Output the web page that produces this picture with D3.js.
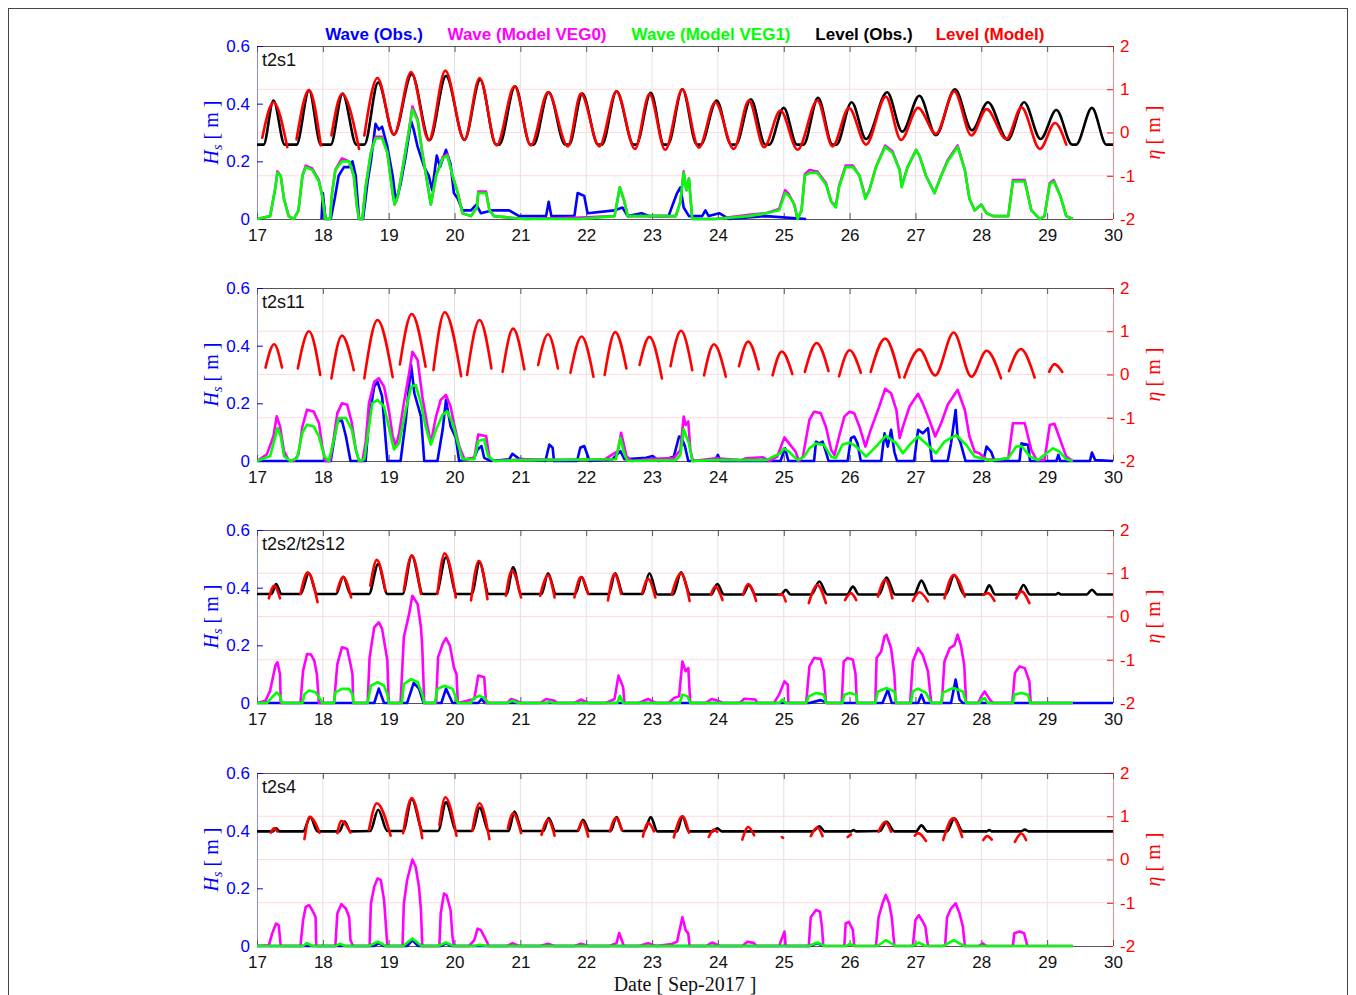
<!DOCTYPE html>
<html>
<head>
<meta charset="utf-8">
<script src="https://cdn.jsdelivr.net/npm/d3@7"></script>
<style>
  body { margin: 0; background: #fff; }
  svg { display: block; }
</style>
</head>
<body>
<div id="chart"></div>
<script>
// Wave height (Hs) and water level (eta) at four stations, Sep 2017.
// Series are [day, value] vertices.

const dayTicks = [17, 18, 19, 20, 21, 22, 23, 24, 25, 26, 27, 28, 29, 30];
const hsTicks = [0, 0.2, 0.4, 0.6];
const hsTickLabels = ["0", "0.2", "0.4", "0.6"];
const etaTicks = [-2, -1, 0, 1, 2];
const etaTickLabels = ["-2", "-1", "0", "1", "2"];
const stationNames = ["t2s1", "t2s11", "t2s2/t2s12", "t2s4"];
const legendLabels = ["Wave (Obs.)", "Wave (Model VEG0)", "Wave (Model VEG1)", "Level (Obs.)", "Level (Model)"];

////////////////////////////////////////////////////////////////////////
// t2s1

const waveObs1 = [[17.98,0],[18.00,0.09],[18.04,0],[18.12,0],[18.18,0.07],[18.24,0.15],[18.32,0.18],[18.40,0.18],[18.45,0.20],[18.50,0.15],[18.55,0],[18.61,0],[18.68,0.13],[18.73,0.20],[18.80,0.33],[18.85,0.31],[18.90,0.32],[18.98,0.25],[19.06,0.15],[19.11,0.06],[19.18,0.12],[19.26,0.22],[19.34,0.34],[19.38,0.31],[19.44,0.25],[19.54,0.18],[19.61,0.15],[19.66,0.10],[19.73,0.22],[19.78,0.18],[19.87,0.24],[19.94,0.19],[19.99,0.09],[20.05,0.07],[20.12,0.03],[20.25,0.03],[20.33,0.05],[20.40,0.02],[20.58,0.03],[20.83,0.03],[20.98,0.01],[21.39,0.01],[21.43,0.06],[21.47,0.01],[21.82,0.01],[21.87,0.09],[21.97,0.08],[22.02,0.02],[22.43,0.03],[22.55,0.04],[22.63,0.01],[22.84,0.02],[22.96,0.01],[23.25,0.01],[23.33,0.06],[23.38,0.09],[23.43,0.11],[23.48,0.04],[23.56,0.01],[23.76,0.01],[23.81,0.03],[23.86,0.01],[24.02,0.02],[24.17,0.00],[24.73,0.01],[25.34,0]];

const waveVeg0_1 = [[17.00,0],[17.20,0.01],[17.28,0.11],[17.31,0.165],[17.36,0.15],[17.41,0.07],[17.48,0.01],[17.56,0],[17.63,0.03],[17.69,0.15],[17.74,0.185],[17.84,0.175],[17.94,0.135],[17.99,0.08],[18.04,0],[18.11,0],[18.14,0.09],[18.19,0.17],[18.29,0.21],[18.40,0.20],[18.47,0.15],[18.52,0.04],[18.55,0],[18.60,0],[18.65,0.11],[18.73,0.23],[18.80,0.285],[18.90,0.285],[18.98,0.23],[19.06,0.09],[19.09,0.05],[19.14,0.08],[19.23,0.20],[19.31,0.31],[19.36,0.39],[19.44,0.345],[19.51,0.23],[19.59,0.12],[19.64,0.05],[19.72,0.15],[19.82,0.215],[19.89,0.225],[19.97,0.15],[20.05,0.09],[20.12,0.02],[20.25,0.01],[20.34,0.04],[20.36,0.095],[20.48,0.095],[20.53,0.03],[20.60,0.01],[21.06,0],[21.92,0.005],[22.43,0.01],[22.51,0.11],[22.58,0.06],[22.63,0.01],[23.36,0.01],[23.43,0.06],[23.48,0.165],[23.52,0.10],[23.56,0.14],[23.61,0],[23.96,0],[24.47,0.015],[24.73,0.02],[24.93,0.035],[25.02,0.10],[25.08,0.085],[25.16,0.05],[25.21,0],[25.27,0.03],[25.32,0.155],[25.39,0.17],[25.51,0.165],[25.64,0.125],[25.72,0.06],[25.79,0.045],[25.84,0.115],[25.94,0.185],[26.05,0.185],[26.15,0.15],[26.24,0.075],[26.30,0.10],[26.40,0.18],[26.54,0.255],[26.65,0.235],[26.76,0.17],[26.79,0.115],[26.88,0.18],[27.01,0.24],[27.06,0.22],[27.16,0.15],[27.29,0.09],[27.39,0.15],[27.49,0.205],[27.64,0.255],[27.75,0.17],[27.82,0.07],[27.90,0.03],[28.00,0.05],[28.08,0.02],[28.18,0.01],[28.41,0.01],[28.48,0.135],[28.66,0.135],[28.76,0.03],[28.89,0],[28.96,0.01],[29.04,0.125],[29.10,0.135],[29.20,0.08],[29.29,0.01],[29.39,0]];

const waveVeg1_1 = [[17.00,0],[17.20,0.01],[17.28,0.11],[17.31,0.16],[17.36,0.15],[17.41,0.07],[17.48,0.01],[17.56,0],[17.63,0.03],[17.69,0.15],[17.74,0.18],[17.84,0.17],[17.94,0.13],[17.99,0.08],[18.04,0],[18.11,0],[18.14,0.09],[18.19,0.17],[18.29,0.20],[18.40,0.20],[18.47,0.15],[18.52,0.04],[18.55,0],[18.60,0],[18.65,0.11],[18.73,0.23],[18.80,0.28],[18.90,0.28],[18.98,0.23],[19.06,0.09],[19.09,0.05],[19.14,0.08],[19.23,0.20],[19.31,0.31],[19.36,0.38],[19.44,0.34],[19.51,0.23],[19.59,0.12],[19.64,0.05],[19.72,0.15],[19.82,0.21],[19.89,0.22],[19.97,0.15],[20.05,0.09],[20.12,0.02],[20.25,0.01],[20.34,0.04],[20.36,0.09],[20.48,0.09],[20.53,0.03],[20.60,0.01],[21.06,0],[21.92,0.00],[22.43,0.01],[22.51,0.11],[22.58,0.06],[22.63,0.01],[23.36,0.01],[23.43,0.06],[23.48,0.16],[23.52,0.10],[23.56,0.14],[23.61,0],[23.96,0],[24.47,0.01],[24.73,0.02],[24.93,0.03],[25.02,0.09],[25.08,0.08],[25.16,0.05],[25.21,0],[25.27,0.03],[25.32,0.15],[25.39,0.16],[25.51,0.16],[25.64,0.12],[25.72,0.06],[25.79,0.04],[25.84,0.11],[25.94,0.18],[26.05,0.18],[26.15,0.15],[26.24,0.07],[26.30,0.10],[26.40,0.18],[26.54,0.25],[26.65,0.23],[26.76,0.17],[26.79,0.11],[26.88,0.18],[27.01,0.24],[27.06,0.22],[27.16,0.15],[27.29,0.09],[27.39,0.15],[27.49,0.20],[27.64,0.25],[27.75,0.17],[27.82,0.07],[27.90,0.03],[28.00,0.05],[28.08,0.02],[28.18,0.01],[28.41,0.01],[28.48,0.13],[28.66,0.13],[28.76,0.03],[28.89,0],[28.96,0.01],[29.04,0.12],[29.10,0.13],[29.20,0.08],[29.29,0.01],[29.39,0]];

const levelObs1 = [[17.00,-0.28],[17.10,-0.28],[17.25,0.74],[17.42,-0.28],[17.60,-0.28],[17.79,0.97],[17.97,-0.28],[18.12,-0.28],[18.30,0.90],[18.51,-0.28],[18.63,-0.28],[18.84,1.16],[19.08,-0.05],[19.35,1.35],[19.62,-0.18],[19.87,1.31],[20.15,-0.17],[20.39,1.22],[20.63,-0.28],[20.68,-0.28],[20.92,1.07],[21.15,-0.28],[21.20,-0.28],[21.43,0.93],[21.68,-0.28],[21.74,-0.28],[21.94,0.90],[22.18,-0.28],[22.24,-0.28],[22.46,0.95],[22.72,-0.28],[22.76,-0.28],[22.98,0.92],[23.18,-0.28],[23.24,-0.28],[23.46,1.00],[23.68,-0.28],[23.74,-0.28],[23.98,0.74],[24.20,-0.28],[24.27,-0.28],[24.50,0.77],[24.72,-0.28],[24.78,-0.28],[25.00,0.57],[25.20,-0.28],[25.30,-0.28],[25.52,0.80],[25.74,-0.28],[25.80,-0.28],[26.03,0.70],[26.25,-0.15],[26.57,0.93],[26.80,0.02],[27.06,0.85],[27.31,-0.06],[27.60,1.00],[27.86,0.05],[28.10,0.70],[28.40,-0.17],[28.65,0.70],[28.90,-0.15],[29.14,0.52],[29.38,-0.28],[29.44,-0.28],[29.68,0.57],[29.90,-0.28],[30.00,-0.28]];

const levelModel1 = [
  [[17.08,-0.12],[17.25,0.70],[17.46,-0.34]],
  [[17.60,-0.16],[17.79,0.98],[17.97,-0.30]],
  [[18.13,-0.07],[18.29,0.89],[18.55,-0.38]],
  [[18.63,-0.07],[18.83,1.26],[19.08,-0.05],[19.34,1.40],[19.61,-0.18],[19.86,1.43],[20.15,-0.17],[20.38,1.26],[20.64,-0.30],[20.91,1.07],[21.16,-0.30],[21.42,0.93],[21.72,-0.32],[21.92,0.90],[22.20,-0.32],[22.46,0.95],[22.74,-0.38],[22.96,0.89],[23.20,-0.40],[23.46,1.00],[23.71,-0.35],[23.96,0.70],[24.24,-0.38],[24.47,0.74],[24.70,-0.34],[24.95,0.51],[25.21,-0.40],[25.51,0.74],[25.74,-0.32],[25.99,0.57],[26.25,-0.28],[26.55,0.83],[26.78,-0.17],[27.04,0.57],[27.31,-0.03],[27.59,0.95],[27.85,-0.07],[28.08,0.54],[28.38,-0.15],[28.61,0.58],[28.89,-0.38],[29.12,0.22],[29.29,-0.28]]
];

////////////////////////////////////////////////////////////////////////
// t2s11

const waveObs2 = [[17.00,0],[18.12,0],[18.18,0.086],[18.22,0.138],[18.29,0.14],[18.35,0.086],[18.42,0],[18.65,0],[18.70,0.143],[18.78,0.258],[18.83,0.275],[18.90,0.224],[18.98,0],[19.18,0],[19.26,0.143],[19.34,0.333],[19.39,0.235],[19.49,0.155],[19.54,0],[19.74,0],[19.82,0.109],[19.87,0.212],[19.94,0.12],[20.02,0.08],[20.07,0],[20.30,0.011],[20.35,0.04],[20.41,0.052],[20.45,0.011],[20.55,0],[20.83,0.006],[20.88,0.025],[20.98,0.008],[21.38,0],[21.44,0.057],[21.49,0.046],[21.51,0],[21.86,0],[21.91,0.046],[21.97,0.052],[22.05,0],[22.40,0.006],[22.52,0.034],[22.58,0.006],[22.91,0.011],[23.01,0.017],[23.10,0],[23.33,0.015],[23.41,0.085],[23.45,0.08],[23.50,0.05],[23.55,0],[23.96,0.003],[24.00,0.021],[24.04,0],[24.95,0],[25.02,0.044],[25.07,0],[25.46,0],[25.49,0.067],[25.54,0.061],[25.59,0.067],[25.64,0.032],[25.68,0],[25.97,0],[26.02,0.079],[26.07,0.085],[26.12,0.061],[26.17,0],[26.48,0],[26.53,0.096],[26.58,0.05],[26.63,0.108],[26.68,0.032],[26.72,0],[26.98,0],[27.04,0.108],[27.11,0.096],[27.19,0.114],[27.25,0],[27.49,0],[27.54,0.061],[27.61,0.177],[27.64,0.085],[27.68,0.067],[27.76,0],[28.03,0],[28.08,0.05],[28.15,0.032],[28.20,0],[28.58,0],[28.61,0.061],[28.71,0.056],[28.74,0],[29.14,0],[29.17,0.021],[29.20,0],[29.65,0],[29.68,0.029],[29.73,0.003],[30.00,0]];

const waveVeg0_2 = [[17.00,0],[17.15,0.023],[17.25,0.086],[17.30,0.155],[17.35,0.12],[17.41,0.034],[17.48,0.003],[17.56,0],[17.63,0.023],[17.69,0.12],[17.76,0.178],[17.86,0.172],[17.94,0.132],[17.99,0.052],[18.04,0],[18.11,0],[18.17,0.086],[18.22,0.166],[18.29,0.2],[18.37,0.195],[18.44,0.132],[18.50,0.04],[18.55,0],[18.60,0],[18.65,0.063],[18.70,0.2],[18.78,0.275],[18.85,0.287],[18.93,0.258],[19.01,0.166],[19.06,0.086],[19.11,0.052],[19.16,0.098],[19.23,0.2],[19.31,0.304],[19.36,0.379],[19.44,0.35],[19.51,0.224],[19.59,0.12],[19.64,0.063],[19.72,0.155],[19.79,0.212],[19.87,0.229],[19.94,0.189],[19.99,0.132],[20.07,0.052],[20.15,0.006],[20.30,0.011],[20.36,0.092],[20.48,0.086],[20.53,0.011],[20.61,0],[21.06,0.006],[21.57,0.004],[22.28,0.006],[22.48,0.034],[22.53,0.098],[22.61,0.017],[22.69,0],[23.01,0.008],[23.33,0.01],[23.43,0.038],[23.48,0.154],[23.51,0.125],[23.55,0.137],[23.58,0.04],[23.62,0],[23.96,0.009],[24.35,0.003],[24.42,0.009],[24.68,0.013],[24.78,0],[24.90,0.015],[25.01,0.082],[25.08,0.061],[25.18,0.032],[25.23,0],[25.29,0.015],[25.39,0.143],[25.46,0.171],[25.56,0.166],[25.64,0.119],[25.72,0.038],[25.77,0.021],[25.84,0.085],[25.92,0.154],[26.00,0.171],[26.07,0.166],[26.15,0.119],[26.24,0.05],[26.32,0.108],[26.45,0.189],[26.54,0.25],[26.63,0.235],[26.71,0.177],[26.76,0.079],[26.81,0.119],[26.91,0.189],[27.04,0.233],[27.11,0.2],[27.21,0.143],[27.30,0.085],[27.39,0.131],[27.49,0.195],[27.64,0.247],[27.75,0.177],[27.82,0.085],[27.90,0.032],[27.97,0.027],[28.08,0.006],[28.24,0.004],[28.41,0.009],[28.48,0.131],[28.66,0.131],[28.76,0.038],[28.84,0.004],[28.96,0.004],[29.04,0.125],[29.11,0.129],[29.20,0.073],[29.29,0.015],[29.39,0]];

const waveVeg1_2 = [[17.00,0],[17.20,0.017],[17.28,0.086],[17.31,0.115],[17.36,0.086],[17.41,0.017],[17.51,0],[17.61,0.011],[17.69,0.098],[17.76,0.126],[17.86,0.12],[17.94,0.086],[18.02,0.017],[18.09,0],[18.17,0.075],[18.24,0.149],[18.35,0.149],[18.44,0.109],[18.50,0.04],[18.55,0],[18.63,0.006],[18.68,0.086],[18.75,0.2],[18.83,0.212],[18.93,0.189],[19.01,0.109],[19.08,0.04],[19.16,0.063],[19.26,0.178],[19.34,0.258],[19.41,0.264],[19.49,0.2],[19.56,0.12],[19.64,0.057],[19.72,0.109],[19.82,0.161],[19.89,0.172],[19.97,0.132],[20.05,0.063],[20.12,0.006],[20.30,0.006],[20.36,0.069],[20.45,0.075],[20.51,0.017],[20.60,0],[21.06,0.003],[22.45,0.006],[22.52,0.08],[22.58,0.023],[22.63,0],[23.36,0.003],[23.43,0.021],[23.48,0.11],[23.52,0.085],[23.56,0.061],[23.61,0],[23.96,0.003],[24.73,0.003],[24.95,0.027],[25.00,0.044],[25.08,0.032],[25.21,0.003],[25.31,0.015],[25.39,0.044],[25.49,0.061],[25.61,0.056],[25.72,0.015],[25.79,0.01],[25.89,0.056],[26.00,0.064],[26.10,0.05],[26.25,0.015],[26.40,0.05],[26.55,0.087],[26.71,0.061],[26.81,0.027],[26.91,0.056],[27.04,0.085],[27.16,0.061],[27.31,0.027],[27.44,0.067],[27.62,0.09],[27.77,0.056],[27.90,0.015],[28.00,0.01],[28.15,0.002],[28.41,0.01],[28.53,0.05],[28.61,0.052],[28.74,0.015],[28.86,0.003],[28.99,0.027],[29.09,0.044],[29.19,0.032],[29.29,0.006],[29.39,0]];

const levelObs2 = [];

const levelModel2 = [
  [[17.13,0.16],[17.26,0.70],[17.38,0.16]],
  [[17.62,0.14],[17.79,1.00],[17.96,-0.01]],
  [[18.13,-0.09],[18.29,0.90],[18.47,0.10]],
  [[18.63,-0.09],[18.83,1.26],[19.06,-0.06]],
  [[19.17,0.23],[19.35,1.40],[19.56,0.18]],
  [[19.68,0.10],[19.85,1.44],[20.10,-0.04]],
  [[20.19,-0.01],[20.38,1.26],[20.56,0.14]],
  [[20.73,0.06],[20.89,1.06],[21.06,0.12]],
  [[21.27,0.22],[21.42,0.93],[21.57,0.14]],
  [[21.76,0.04],[21.93,0.88],[22.11,-0.05]],
  [[22.28,-0.01],[22.44,0.98],[22.61,0.14]],
  [[22.81,0.22],[22.96,0.87],[23.15,-0.09]],
  [[23.28,0.19],[23.44,1.01],[23.61,0.10]],
  [[23.79,-0.02],[23.94,0.70],[24.12,-0.05]],
  [[24.32,0.19],[24.46,0.76],[24.62,0.12]],
  [[24.83,-0.02],[24.97,0.53],[25.13,0.01]],
  [[25.32,0.06],[25.50,0.73],[25.68,0.08]],
  [[25.84,-0.04],[26.00,0.56],[26.17,0.04]],
  [[26.32,0.06],[26.54,0.83],[26.76,-0.07]],
  [[26.83,-0.07],[27.06,0.58],[27.30,-0.02],[27.58,0.97],[27.85,-0.05],[28.08,0.55],[28.30,-0.09]],
  [[28.42,0.08],[28.60,0.59],[28.81,-0.07]],
  [[29.03,0.06],[29.11,0.24],[29.23,0.06]]
];

////////////////////////////////////////////////////////////////////////
// t2s2/t2s12

const waveObs3 = [[17.00,0],[18.78,0],[18.85,0.05],[18.93,0],[19.28,0],[19.38,0.07],[19.46,0.05],[19.53,0],[19.80,0],[19.87,0.05],[19.97,0],[20.36,0],[20.41,0.014],[20.46,0],[25.39,0],[25.56,0.01],[25.66,0],[26.50,0],[26.58,0.046],[26.64,0],[27.04,0],[27.09,0.029],[27.14,0],[27.54,0],[27.61,0.081],[27.67,0.012],[27.72,0],[30.00,0]];

const waveVeg0_3 = [[17.00,0],[17.13,0.008],[17.20,0.043],[17.28,0.13],[17.31,0.141],[17.35,0.1],[17.36,0],[17.66,0],[17.70,0.112],[17.76,0.17],[17.82,0.168],[17.87,0.147],[17.91,0.1],[17.94,0],[18.17,0],[18.22,0.135],[18.29,0.193],[18.37,0.187],[18.42,0.135],[18.45,0.1],[18.46,0],[18.68,0],[18.71,0.158],[18.78,0.262],[18.85,0.28],[18.90,0.257],[18.98,0.147],[19.00,0],[19.18,0],[19.23,0.228],[19.31,0.309],[19.36,0.372],[19.44,0.343],[19.49,0.262],[19.51,0.193],[19.54,0],[19.72,0],[19.75,0.158],[19.82,0.205],[19.87,0.225],[19.93,0.199],[19.99,0.124],[20.03,0.1],[20.05,0],[20.30,0.014],[20.36,0.095],[20.45,0.089],[20.48,0],[20.80,0],[20.86,0.014],[20.96,0.006],[21.00,0],[21.30,0],[21.39,0.014],[21.52,0.008],[21.56,0],[21.82,0],[21.92,0.012],[22.03,0],[22.30,0],[22.43,0.014],[22.49,0.095],[22.56,0.055],[22.58,0],[22.80,0],[22.94,0.014],[23.05,0],[23.25,0],[23.33,0.017],[23.41,0.023],[23.46,0.144],[23.51,0.11],[23.55,0.121],[23.58,0],[23.81,0],[23.91,0.014],[24.02,0.006],[24.07,0],[24.33,0],[24.40,0.015],[24.57,0.012],[24.60,0],[24.85,0],[24.93,0.029],[25.01,0.075],[25.06,0.064],[25.07,0],[25.34,0],[25.39,0.127],[25.46,0.156],[25.56,0.153],[25.61,0.11],[25.64,0],[25.88,0],[25.91,0.144],[25.97,0.156],[26.05,0.15],[26.09,0.1],[26.11,0],[26.39,0],[26.41,0.156],[26.48,0.179],[26.53,0.231],[26.56,0.237],[26.63,0.19],[26.68,0.098],[26.70,0],[26.92,0],[26.96,0.144],[27.04,0.19],[27.11,0.167],[27.19,0.11],[27.24,0],[27.40,0],[27.44,0.144],[27.52,0.19],[27.59,0.2],[27.64,0.237],[27.69,0.2],[27.74,0.133],[27.77,0],[27.95,0],[28.00,0.023],[28.05,0.04],[28.13,0.012],[28.18,0],[28.47,0],[28.51,0.104],[28.58,0.127],[28.66,0.121],[28.73,0.075],[28.75,0],[29.39,0]];

const waveVeg1_3 = [[17.00,0],[17.15,0],[17.23,0.02],[17.30,0.037],[17.35,0.025],[17.38,0],[17.69,0],[17.72,0.03],[17.79,0.043],[17.89,0.037],[17.97,0.01],[17.99,0],[18.17,0],[18.19,0.037],[18.29,0.049],[18.40,0.049],[18.45,0.03],[18.47,0],[18.68,0],[18.73,0.06],[18.83,0.072],[18.93,0.06],[18.98,0.03],[19.00,0],[19.20,0],[19.23,0.066],[19.34,0.083],[19.44,0.072],[19.51,0.03],[19.54,0],[19.70,0],[19.74,0.049],[19.85,0.06],[19.97,0.049],[20.02,0.02],[20.05,0],[20.25,0],[20.28,0.014],[20.37,0.025],[20.46,0.017],[20.51,0],[20.80,0],[20.88,0.008],[20.97,0],[21.40,0],[21.45,0.004],[21.50,0],[22.47,0],[22.51,0.025],[22.56,0],[23.42,0],[23.46,0.029],[23.54,0.023],[23.58,0],[24.93,0],[24.98,0.012],[25.03,0],[25.34,0],[25.38,0.023],[25.49,0.035],[25.61,0.029],[25.64,0],[25.89,0],[25.92,0.029],[26.00,0.035],[26.10,0.029],[26.12,0],[26.39,0],[26.43,0.04],[26.56,0.052],[26.68,0.04],[26.71,0],[26.93,0],[26.96,0.04],[27.04,0.05],[27.16,0.035],[27.24,0],[27.39,0],[27.41,0.035],[27.57,0.052],[27.72,0.040],[27.77,0],[27.97,0],[28.00,0.012],[28.05,0.017],[28.10,0],[28.48,0],[28.50,0.029],[28.61,0.035],[28.71,0.029],[28.74,0],[29.39,0]];

const levelObs3 = [[17.00,0.52],[17.22,0.52],[17.29,0.75],[17.37,0.52],[17.66,0.52],[17.79,1.00],[17.91,0.52],[18.20,0.52],[18.31,0.92],[18.42,0.52],[18.70,0.52],[18.84,1.21],[18.98,0.52],[19.21,0.52],[19.35,1.41],[19.52,0.52],[19.72,0.52],[19.87,1.37],[20.03,0.52],[20.26,0.52],[20.38,1.25],[20.52,0.52],[20.79,0.52],[20.89,1.14],[21.01,0.52],[21.32,0.52],[21.42,1.00],[21.54,0.52],[21.83,0.52],[21.93,0.91],[22.04,0.52],[22.34,0.52],[22.44,1.00],[22.56,0.52],[22.85,0.52],[22.96,1.00],[23.08,0.51],[23.32,0.51],[23.44,1.02],[23.58,0.51],[23.90,0.51],[23.99,0.75],[24.09,0.51],[24.38,0.51],[24.47,0.73],[24.57,0.51],[24.96,0.51],[25.03,0.62],[25.10,0.51],[25.42,0.51],[25.54,0.81],[25.66,0.51],[25.96,0.51],[26.05,0.69],[26.14,0.51],[26.45,0.51],[26.56,0.90],[26.69,0.51],[26.98,0.51],[27.09,0.83],[27.21,0.51],[27.46,0.51],[27.59,0.96],[27.74,0.51],[28.04,0.51],[28.12,0.72],[28.21,0.51],[28.55,0.51],[28.64,0.73],[28.74,0.51],[29.13,0.51],[29.17,0.54],[29.21,0.51],[29.60,0.51],[29.68,0.62],[29.76,0.51],[30.00,0.51]];

const levelModel3 = [
  [[17.18,0.42],[17.26,0.71],[17.35,0.42]],
  [[17.66,0.52],[17.77,1.02],[17.92,0.33]],
  [[18.22,0.61],[18.31,0.91],[18.43,0.44]],
  [[18.72,0.71],[18.82,1.31],[18.95,0.60]],
  [[19.23,0.60],[19.35,1.41],[19.49,0.52]],
  [[19.74,0.52],[19.85,1.46],[20.02,0.44]],
  [[20.25,0.37],[20.37,1.29],[20.50,0.40]],
  [[20.78,0.48],[20.87,1.06],[21.01,0.44]],
  [[21.30,0.48],[21.42,0.95],[21.52,0.44]],
  [[21.82,0.44],[21.92,0.91],[22.03,0.52]],
  [[22.33,0.37],[22.43,0.98],[22.53,0.52]],
  [[22.85,0.54],[22.94,0.87],[23.05,0.44]],
  [[23.30,0.52],[23.44,1.00],[23.57,0.36]],
  [[23.89,0.50],[23.96,0.69],[24.07,0.38]],
  [[24.38,0.50],[24.46,0.75],[24.58,0.36]],
  [[24.93,0.50],[24.97,0.52],[25.03,0.35]],
  [[25.38,0.31],[25.51,0.73],[25.64,0.31]],
  [[25.93,0.38],[26.02,0.54],[26.10,0.38]],
  [[26.43,0.46],[26.54,0.85],[26.65,0.42]],
  [[26.96,0.36],[27.06,0.56],[27.19,0.35]],
  [[27.44,0.42],[27.58,0.96],[27.75,0.46]],
  [[28.03,0.50],[28.10,0.54],[28.20,0.36]],
  [[28.53,0.42],[28.61,0.58],[28.73,0.31]]
];

////////////////////////////////////////////////////////////////////////
// t2s4

const waveObs4 = [[17.00,0],[18.78,0],[18.85,0.01],[18.92,0],[19.28,0],[19.36,0.02],[19.45,0],[19.80,0],[19.87,0.01],[19.95,0],[25.40,0],[25.51,0.01],[25.60,0]];

const waveVeg0_4 = [[17.00,0],[17.18,0.002],[17.23,0.043],[17.29,0.078],[17.33,0.072],[17.36,0],[17.66,0],[17.70,0.089],[17.74,0.136],[17.79,0.142],[17.84,0.124],[17.89,0.1],[17.90,0],[18.19,0],[18.22,0.113],[18.28,0.145],[18.35,0.13],[18.40,0.1],[18.42,0.02],[18.46,0],[18.71,0],[18.73,0.147],[18.78,0.205],[18.83,0.234],[18.88,0.229],[18.93,0.159],[18.98,0],[19.21,0],[19.23,0.147],[19.28,0.229],[19.36,0.3],[19.41,0.275],[19.46,0.205],[19.49,0.124],[19.51,0],[19.77,0],[19.79,0.113],[19.84,0.182],[19.88,0.176],[19.94,0.124],[19.97,0.03],[19.99,0],[20.22,0],[20.30,0.02],[20.35,0.06],[20.40,0.055],[20.48,0.02],[20.52,0],[20.80,0],[20.88,0.01],[20.98,0],[21.30,0],[21.42,0.008],[21.52,0],[21.82,0],[21.92,0.008],[22.04,0],[22.35,0],[22.46,0.01],[22.50,0.045],[22.55,0.014],[22.57,0],[22.80,0],[22.94,0.01],[23.06,0],[23.30,0.007],[23.38,0.015],[23.46,0.1],[23.51,0.055],[23.55,0.044],[23.57,0],[23.82,0],[23.91,0.012],[24.03,0],[24.37,0],[24.45,0.015],[24.55,0.01],[24.58,0],[24.93,0],[25.01,0.05],[25.03,0],[25.38,0],[25.41,0.1],[25.49,0.125],[25.55,0.119],[25.58,0.067],[25.60,0],[25.92,0],[25.94,0.078],[25.99,0.084],[26.05,0.055],[26.07,0],[26.40,0],[26.44,0.1],[26.50,0.148],[26.55,0.177],[26.60,0.148],[26.64,0.1],[26.68,0],[26.96,0],[27.00,0.09],[27.05,0.107],[27.11,0.085],[27.15,0.067],[27.19,0],[27.45,0],[27.48,0.1],[27.54,0.13],[27.61,0.148],[27.67,0.113],[27.72,0.067],[27.75,0],[27.96,0],[28.02,0.009],[28.08,0],[28.48,0],[28.50,0.044],[28.58,0.05],[28.65,0.044],[28.70,0],[29.39,0]];

const waveVeg1_4 = [[17.00,0],[17.70,0],[17.76,0.01],[17.84,0],[18.20,0],[18.26,0.008],[18.34,0],[18.70,0],[18.83,0.015],[18.96,0],[19.22,0],[19.36,0.026],[19.50,0],[19.75,0],[19.87,0.012],[19.98,0],[20.30,0],[20.38,0.004],[20.50,0],[25.38,0],[25.51,0.012],[25.62,0],[25.95,0],[26.00,0.007],[26.08,0],[26.42,0],[26.55,0.02],[26.70,0],[26.95,0],[27.05,0.012],[27.15,0],[27.42,0],[27.58,0.02],[27.74,0],[29.39,0]];

const levelObs4 = [[17.00,0.65],[17.24,0.65],[17.29,0.72],[17.34,0.65],[17.70,0.65],[17.81,0.98],[17.92,0.65],[18.25,0.65],[18.33,0.88],[18.42,0.65],[18.72,0.66],[18.84,1.15],[18.98,0.66],[19.22,0.66],[19.35,1.40],[19.52,0.66],[19.75,0.66],[19.87,1.32],[20.03,0.66],[20.27,0.66],[20.38,1.20],[20.52,0.66],[20.82,0.66],[20.91,1.11],[21.03,0.66],[21.35,0.66],[21.43,0.96],[21.53,0.66],[21.87,0.66],[21.95,0.92],[22.05,0.66],[22.37,0.66],[22.46,0.98],[22.56,0.66],[22.88,0.66],[22.98,0.98],[23.08,0.65],[23.38,0.65],[23.46,1.00],[23.56,0.65],[23.92,0.65],[23.99,0.72],[24.06,0.65],[25.44,0.65],[25.54,0.77],[25.62,0.65],[26.02,0.65],[26.06,0.68],[26.10,0.65],[26.46,0.66],[26.56,0.87],[26.68,0.65],[27.01,0.65],[27.09,0.79],[27.18,0.65],[27.48,0.65],[27.59,0.95],[27.72,0.65],[28.08,0.65],[28.12,0.68],[28.16,0.65],[28.60,0.65],[28.66,0.69],[28.72,0.65],[30.00,0.65]];

const levelModel4 = [
  [[17.21,0.62],[17.26,0.72],[17.31,0.65]],
  [[17.72,0.47],[17.80,0.99],[17.95,0.62]],
  [[18.22,0.61],[18.28,0.89],[18.42,0.62]],
  [[18.70,0.68],[18.82,1.30],[19.03,0.55]],
  [[19.22,0.61],[19.35,1.42],[19.51,0.49]],
  [[19.77,0.80],[19.86,1.44],[20.03,0.55]],
  [[20.27,0.67],[20.38,1.30],[20.53,0.47]],
  [[20.81,0.72],[20.89,1.07],[21.01,0.61]],
  [[21.32,0.57],[21.42,0.92],[21.52,0.55]],
  [[21.88,0.68],[21.94,0.88],[22.03,0.53]],
  [[22.36,0.65],[22.45,0.96],[22.54,0.68]],
  [[22.86,0.53],[22.94,0.85],[23.03,0.65]],
  [[23.33,0.51],[23.46,1.00],[23.56,0.62]],
  [[23.86,0.52],[23.94,0.69],[23.99,0.64]],
  [[24.37,0.46],[24.46,0.75],[24.55,0.56]],
  [[24.97,0.52],[24.99,0.50]],
  [[25.41,0.54],[25.51,0.74],[25.59,0.54]],
  [[25.97,0.52],[26.02,0.58]],
  [[26.44,0.64],[26.54,0.87],[26.63,0.64]],
  [[26.99,0.55],[27.04,0.61],[27.16,0.43]],
  [[27.42,0.45],[27.57,0.95],[27.71,0.52]],
  [[28.03,0.45],[28.09,0.54],[28.16,0.46]],
  [[28.51,0.41],[28.61,0.60],[28.68,0.45]]
];

////////////////////////////////////////////////////////////////////////
// layout

const width = 1356, height = 995;
const plotLeft = 257, plotRight = 1113, plotH = 173;
const panelTops = [46, 288, 530, 773];
const sans = "'Liberation Sans', Arial, Helvetica, sans-serif";
const serif = "'Liberation Serif', 'Times New Roman', serif";
const colors = { obs: "#0000ff", veg0: "#ff00ff", veg1: "#00ff00", lvlObs: "#000000", lvlModel: "#ff0000" };

const panels = [
  { name: stationNames[0], waveObs: waveObs1, veg0: waveVeg0_1, veg1: waveVeg1_1, levelObs: levelObs1, levelModel: levelModel1 },
  { name: stationNames[1], waveObs: waveObs2, veg0: waveVeg0_2, veg1: waveVeg1_2, levelObs: levelObs2, levelModel: levelModel2 },
  { name: stationNames[2], waveObs: waveObs3, veg0: waveVeg0_3, veg1: waveVeg1_3, levelObs: levelObs3, levelModel: levelModel3 },
  { name: stationNames[3], waveObs: waveObs4, veg0: waveVeg0_4, veg1: waveVeg1_4, levelObs: levelObs4, levelModel: levelModel4 }
];

const svg = d3.select("#chart").append("svg")
  .attr("width", width)
  .attr("height", height);

svg.append("rect")
  .attr("x", 8.5).attr("y", 8.5)
  .attr("width", 1339).attr("height", 1000)
  .attr("fill", "none")
  .attr("stroke", "#444");

const x = d3.scaleLinear().domain([17, 30]).range([plotLeft, plotRight]);

function styleTicks(g, color, textColor, size) {
  g.select(".domain").remove();
  g.selectAll(".tick line").attr("stroke", color);
  g.selectAll(".tick text")
    .attr("fill", textColor)
    .attr("font-family", sans)
    .attr("font-size", size);
}

function drawPanel(p, i) {
  const top = panelTops[i];
  const bottom = top + plotH;
  const yL = d3.scaleLinear().domain([0, 0.6]).range([bottom, top]);
  const yR = d3.scaleLinear().domain([-2, 2]).range([bottom, top]);
  const g = svg.append("g");

  // grid: vertical gray per day, horizontal red from eta axis
  g.selectAll(".vgrid").data(dayTicks.slice(1, -1)).join("line")
    .attr("x1", d => x(d)).attr("x2", d => x(d))
    .attr("y1", top).attr("y2", bottom)
    .attr("stroke", "#e2e2e2").attr("stroke-width", 1);
  g.selectAll(".hgrid").data(etaTicks.slice(1, -1)).join("line")
    .attr("x1", plotLeft).attr("x2", plotRight)
    .attr("y1", d => yR(d)).attr("y2", d => yR(d))
    .attr("stroke", "#ffdada").attr("stroke-width", 1);

  // box + axes first, lines on top like the original
  g.append("line").attr("x1", plotLeft).attr("x2", plotRight).attr("y1", top + 0.5).attr("y2", top + 0.5).attr("stroke", "#555");
  g.append("line").attr("x1", plotLeft).attr("x2", plotRight).attr("y1", bottom + 0.5).attr("y2", bottom + 0.5).attr("stroke", "#555");
  g.append("line").attr("x1", plotLeft + 0.5).attr("x2", plotLeft + 0.5).attr("y1", top).attr("y2", bottom).attr("stroke", "#8a8aff");
  g.append("line").attr("x1", plotRight + 0.5).attr("x2", plotRight + 0.5).attr("y1", top).attr("y2", bottom).attr("stroke", "#ff8a8a");

  g.append("g").attr("transform", `translate(0,${bottom})`)
    .call(d3.axisBottom(x).tickValues(dayTicks).tickFormat(d3.format("d")).tickSize(-6).tickPadding(10))
    .call(s => styleTicks(s, "#555", "#111", 17));
  g.append("g").attr("transform", `translate(0,${top})`)
    .call(d3.axisTop(x).tickValues(dayTicks).tickFormat("").tickSize(-6))
    .call(s => styleTicks(s, "#555", "#111", 0));
  g.append("g").attr("transform", `translate(${plotLeft},0)`)
    .call(d3.axisLeft(yL).tickValues(hsTicks).tickFormat((d, j) => hsTickLabels[j]).tickSize(-6).tickPadding(7))
    .call(s => styleTicks(s, "#0000ff", "#0000ff", 17));
  g.append("g").attr("transform", `translate(${plotRight},0)`)
    .call(d3.axisRight(yR).tickValues(etaTicks).tickFormat((d, j) => etaTickLabels[j]).tickSize(-6).tickPadding(7))
    .call(s => styleTicks(s, "#ff0000", "#ff0000", 17));

  const clipId = "clip" + i;
  svg.append("clipPath").attr("id", clipId)
    .append("rect")
    .attr("x", plotLeft).attr("y", top - 4)
    .attr("width", plotRight - plotLeft).attr("height", plotH + 8);

  const data = g.append("g").attr("clip-path", "url(#" + clipId + ")");

  const waveLine = d3.line().x(d => x(d[0])).y(d => yL(d[1]));
  const tideLine = d3.line().x(d => x(d[0])).y(d => yR(d[1])).curve(d3.curveMonotoneX);

  [["waveObs", colors.obs], ["veg0", colors.veg0], ["veg1", colors.veg1]].forEach(([k, c]) => {
    data.append("path")
      .attr("d", waveLine(p[k]))
      .attr("fill", "none")
      .attr("stroke", c)
      .attr("stroke-width", 2.6)
      .attr("stroke-linejoin", "round");
  });

  if (p.levelObs.length) {
    data.append("path")
      .attr("d", tideLine(p.levelObs))
      .attr("fill", "none")
      .attr("stroke", colors.lvlObs)
      .attr("stroke-width", 2.6)
      .attr("stroke-linejoin", "round");
  }
  data.selectAll(".seg").data(p.levelModel).join("path")
    .attr("d", seg => tideLine(seg))
    .attr("fill", "none")
    .attr("stroke", colors.lvlModel)
    .attr("stroke-width", 2.6)
    .attr("stroke-linecap", "round")
    .attr("stroke-linejoin", "round");

  // station name
  g.append("text")
    .attr("x", plotLeft + 5).attr("y", top + 20)
    .attr("font-family", sans).attr("font-size", 18)
    .attr("fill", "#111")
    .text(p.name);

  const mid = (top + bottom) / 2;

  // left label: H_s [ m ]
  const lt = g.append("text")
    .attr("transform", `translate(218,${mid}) rotate(-90)`)
    .attr("text-anchor", "middle")
    .attr("font-family", serif).attr("font-size", 20)
    .attr("fill", "#0000ff");
  lt.append("tspan").attr("font-style", "italic").text("H");
  lt.append("tspan").attr("font-style", "italic").attr("font-size", 14).attr("dy", 4).text("s");
  lt.append("tspan").attr("dy", -4).text(" [ m ]");

  // right label: eta [ m ]
  const rt = g.append("text")
    .attr("transform", `translate(1160,${mid}) rotate(-90)`)
    .attr("text-anchor", "middle")
    .attr("font-family", serif).attr("font-size", 20)
    .attr("fill", "#ff0000");
  rt.append("tspan").attr("font-style", "italic").text("\u03b7");
  rt.append("tspan").text(" [ m ]");
}

panels.forEach(drawPanel);

// legend across the top
const legendX = [374, 527, 711, 864, 990];
const legendColors = [colors.obs, colors.veg0, colors.veg1, colors.lvlObs, colors.lvlModel];
svg.append("g").selectAll("text").data(legendLabels).join("text")
  .attr("x", (d, i) => legendX[i])
  .attr("y", 40)
  .attr("text-anchor", "middle")
  .attr("font-family", sans)
  .attr("font-weight", "bold")
  .attr("font-size", 17)
  .attr("fill", (d, i) => legendColors[i])
  .text(d => d);

// x label
svg.append("text")
  .attr("x", (plotLeft + plotRight) / 2)
  .attr("y", 991)
  .attr("text-anchor", "middle")
  .attr("font-family", serif)
  .attr("font-size", 20)
  .attr("fill", "#111")
  .text("Date [ Sep-2017 ]");
</script>
</body>
</html>
